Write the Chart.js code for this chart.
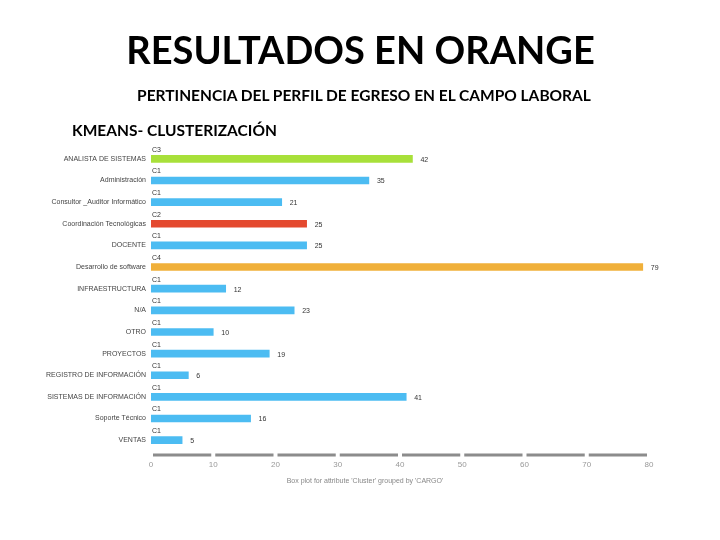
<!DOCTYPE html>
<html>
<head>
<meta charset="utf-8">
<script src="https://cdn.jsdelivr.net/npm/chart.js@4"></script>
<style>
    html, body { margin: 0; padding: 0; background: #fff; }
    #wrap { position: relative; width: 720px; height: 540px; overflow: hidden; }
    #chart { position: absolute; left: 0; top: 0; }
    .t { position: absolute; font-family: Lato, sans-serif; font-weight: 700; color: #000; white-space: nowrap; }
    #title { left: 0; width: 721px; text-align: center; top: 26px; font-size: 38px; line-height: 46px; }
    #subtitle { left: 0; width: 728px; text-align: center; top: 86px; font-size: 15.5px; line-height: 18px; }
    #section { left: 72px; top: 120px; font-size: 15.5px; line-height: 20px; }
</style>
</head>
<body>
<div id="wrap">
    <canvas id="chart" width="720" height="540"></canvas>
    <div class="t" id="title">RESULTADOS EN ORANGE</div>
    <div class="t" id="subtitle">PERTINENCIA DEL PERFIL DE EGRESO EN EL CAMPO LABORAL</div>
    <div class="t" id="section">KMEANS- CLUSTERIZACIÓN</div>
</div>
<script>
// cargo, cluster asignado y conteo
const cargos = [
    'ANALISTA DE SISTEMAS',
    'Administración',
    'Consultor _Auditor Informático',
    'Coordinación Tecnológicas',
    'DOCENTE',
    'Desarrollo de software',
    'INFRAESTRUCTURA',
    'N/A',
    'OTRO',
    'PROYECTOS',
    'REGISTRO DE INFORMACIÓN',
    'SISTEMAS DE INFORMACIÓN',
    'Soporte Técnico',
    'VENTAS'
];
const clusters = ['C3', 'C1', 'C1', 'C2', 'C1', 'C4', 'C1', 'C1', 'C1', 'C1', 'C1', 'C1', 'C1', 'C1'];
const conteos = [42, 35, 21, 25, 25, 79, 12, 23, 10, 19, 6, 41, 16, 5];
const xTicks = [0, 10, 20, 30, 40, 50, 60, 70, 80];
const axisCaption = "Box plot for attribute 'Cluster' grouped by 'CARGO'";

const clusterColors = { C1: '#4cbcf2', C2: '#e4492f', C3: '#a8e03a', C4: '#f0b03a' };
const FONT = '"Liberation Sans", Arial, sans-serif';

const barLabels = {
    id: 'barLabels',
    afterDatasetsDraw(chart) {
        const ctx = chart.ctx;
        const meta = chart.getDatasetMeta(0);
        ctx.save();
        ctx.font = '7px ' + FONT;
        ctx.fillStyle = '#333';
        meta.data.forEach((bar, i) => {
            const h = bar.height;
            ctx.textAlign = 'left';
            ctx.textBaseline = 'bottom';
            ctx.fillText(clusters[i], bar.base + 1, bar.y - h / 2 - 2);
            ctx.textBaseline = 'middle';
            ctx.fillText(String(conteos[i]), bar.x + 8, bar.y + 1);
        });
        ctx.restore();
    }
};

// eje inferior en segmentos grises entre ticks, y la leyenda de abajo
const segmentedAxis = {
    id: 'segmentedAxis',
    afterDraw(chart) {
        const ctx = chart.ctx;
        const x = chart.scales.x;
        const y = chart.chartArea.bottom + 4;
        ctx.save();
        ctx.strokeStyle = '#8c8c8c';
        ctx.lineWidth = 3;
        for (let i = 0; i < xTicks.length - 1; i++) {
            const a = x.getPixelForValue(xTicks[i]) + 2;
            const b = x.getPixelForValue(xTicks[i + 1]) - 2;
            ctx.beginPath();
            ctx.moveTo(a, y);
            ctx.lineTo(b, y);
            ctx.stroke();
        }
        ctx.font = '7px ' + FONT;
        ctx.fillStyle = '#888';
        ctx.textAlign = 'center';
        ctx.textBaseline = 'middle';
        ctx.fillText(axisCaption, 365, 481);
        ctx.restore();
    }
};

new Chart(document.getElementById('chart'), {
    type: 'bar',
    data: {
        labels: cargos,
        datasets: [{
            data: conteos,
            backgroundColor: clusters.map(c => clusterColors[c]),
            barThickness: 7
        }]
    },
    options: {
        indexAxis: 'y',
        responsive: false,
        animation: false,
        layout: { padding: { top: 148, right: 71, bottom: 49, left: 0 } },
        plugins: { legend: { display: false }, tooltip: { enabled: false } },
        scales: {
            y: {
                grid: { display: false, drawTicks: false },
                border: { display: false },
                ticks: { font: { size: 7, family: FONT }, color: '#444', padding: 5, autoSkip: false },
                afterFit(scale) { scale.width = 151; }
            },
            x: {
                min: 0,
                max: 80,
                grid: { display: false, drawTicks: false },
                border: { display: false },
                ticks: { stepSize: 10, font: { size: 8, family: FONT }, color: '#999', padding: 9 },
                afterFit(scale) { scale.height = 40; }
            }
        }
    },
    plugins: [barLabels, segmentedAxis]
});
</script>
</body>
</html>
